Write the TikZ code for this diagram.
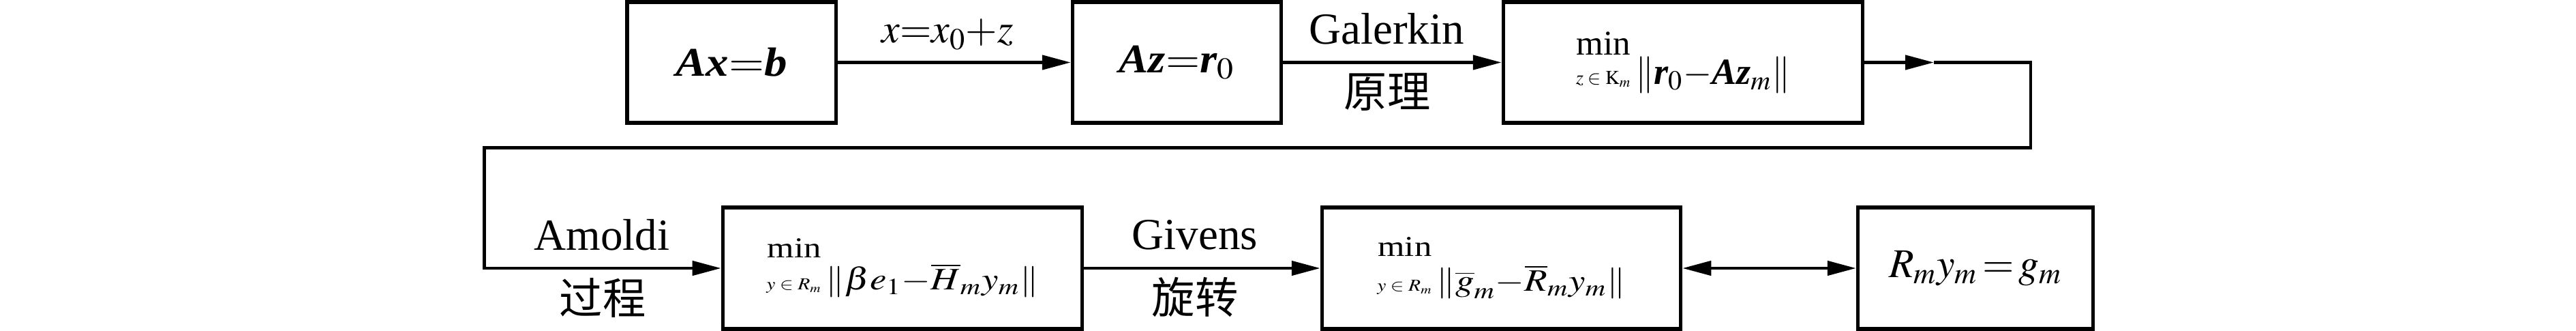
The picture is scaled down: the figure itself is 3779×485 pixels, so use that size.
\documentclass[tikz,border=0pt]{standalone}
\usepackage{amsmath}
\usepackage{mathptmx}
\usepackage{graphicx}
\usepackage{fontspec}
\setmainfont{Liberation Serif}
\newfontfamily\cjk{Noto Sans CJK SC}
\usetikzlibrary{arrows.meta}
\newcommand{\bi}[1]{\text{\bfseries\itshape #1}}
\newcommand{\fs}[1]{\fontsize{#1}{#1}\selectfont}
% stack: min over subscript; baseline = subscript baseline
\newcommand{\minsub}[4]{\vbox{\baselineskip=#4\lineskiplimit=-100pt\lineskip=0pt
  \halign{\hfil##\hfil\cr{\fs{#1}min}\cr{\fs{#2}$#3$}\cr}}}
\begin{document}
\begin{tikzpicture}[x=0.01cm,y=-0.01cm,
  box/.style={draw, line width=0.052cm, inner sep=0pt},
  toprow/.style={box, minimum height=1.77cm},
  botrow/.style={box, minimum height=1.78cm},
  lab/.style={font=\fs{18.5}, inner sep=0pt},
  cjklab/.style={font=\cjk\fs{18}, inner sep=0pt},
  arr/.style={line width=0.045cm, -{Triangle[length=0.42cm,width=0.21cm]}},
  darr/.style={line width=0.045cm, {Triangle[length=0.42cm,width=0.21cm]}-{Triangle[length=0.42cm,width=0.21cm]}}]
\useasboundingbox (0,0) rectangle (3779,485);

% top row
\node[toprow, minimum width=3.06cm] (b1) at (1073,91.5)
  {\scalebox{1.12}[1]{\fs{17}$\bi{Ax}{=}\bi{b}$}};
\node[toprow, minimum width=3.06cm] (b2) at (1726.5,91.5)
  {\scalebox{1.08}[1]{\fs{17}$\bi{Az}{=}\bi{r}_{0}$}};
\node[toprow, minimum width=5.27cm] (b3) at (2469,91.5)
  {\fs{15.4}$\minsub{14.5}{8.2}{z\in\mathrm{K}_m}{12.2pt}\,\|\bi{r}_0{-}\bi{Az}_m\|$};

% bottom row
\node[botrow, minimum width=5.27cm] (b4) at (1324,393)
  {\scalebox{1.2}[1]{\fs{13}$\minsub{12}{7}{y\in R_m}{13.5pt}\,\|\beta e_1{-}\overline{H}_m y_m\|$}};
\node[botrow, minimum width=5.26cm] (b5) at (2202.5,393)
  {\scalebox{1.2}[1]{\fs{13}$\minsub{12}{7}{y\in R_m}{14.5pt}\,\|\overline{g}_m{-}\overline{R}_m y_m\|$}};
\node[botrow, minimum width=3.45cm] (b6) at (2898,393)
  {\fs{17}$R_m y_m\,{=}\,g_m$};

% edge labels
\node[lab, anchor=base] (l1) at (1390,63) {\fs{17}$x{=}x_0{+}z$};
\node[lab, anchor=base] (l2) at (2034,65) {Galerkin};
\node[cjklab] (l3) at (2035,135) {原理};
\node[lab, anchor=base] (l4) at (883,366) {Amoldi};
\node[cjklab] (l5) at (884,436) {过程};
\node[lab, anchor=base] (l6) at (1753,365) {Givens};
\node[cjklab] (l7) at (1753,435) {旋转};

% connectors
\coordinate (m1) at (2837,91.5);
\coordinate (c1) at (2979,91.5);
\coordinate (c2) at (2979,216.5);
\coordinate (c3) at (710.5,216.5);
\coordinate (c4) at (710.5,393);
\draw[arr] (b1) -- (b2);
\draw[arr] (b2) -- (b3);
\draw[arr] (b3) -- (m1);
\draw[arr] (m1) -- (c1) -- (c2) -- (c3) -- (c4) -- (b4);
\draw[arr] (b4) -- (b5);
\draw[darr] (b5) -- (b6);
\end{tikzpicture}
\end{document}
